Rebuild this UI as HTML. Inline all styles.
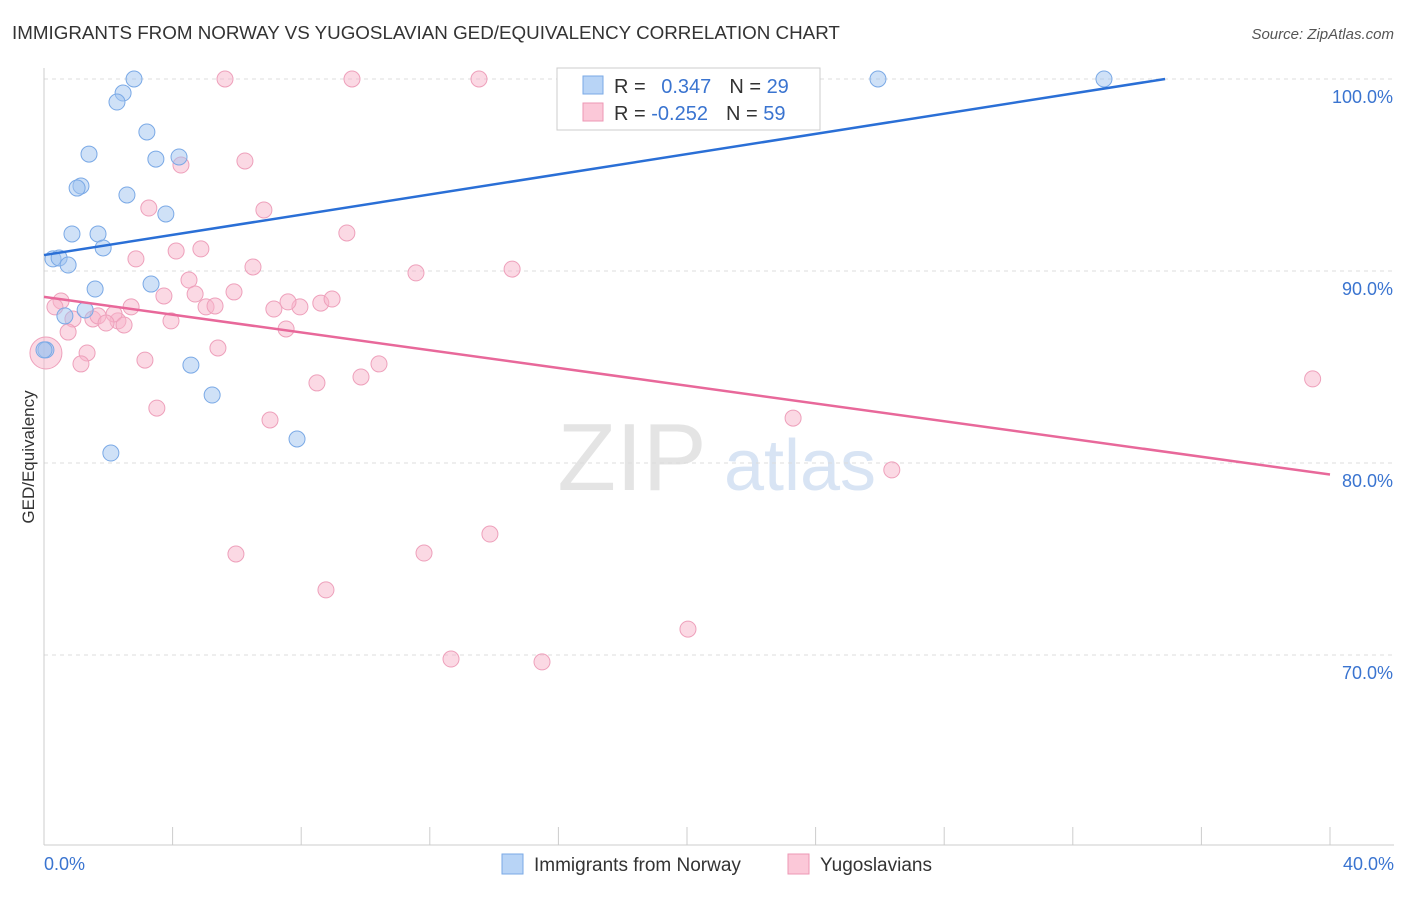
<!DOCTYPE html>
<html><head><meta charset="utf-8"><style>
body{margin:0;background:#fff;font-family:"Liberation Sans",sans-serif;}
svg text{font-family:"Liberation Sans",sans-serif;}
</style></head><body>
<svg id="chart" width="1406" height="892">
<text x="12" y="39" font-size="18.8" fill="#333">IMMIGRANTS FROM NORWAY VS YUGOSLAVIAN GED/EQUIVALENCY CORRELATION CHART</text>
<text x="1394" y="39" font-size="15" fill="#555" text-anchor="end" font-style="italic">Source: ZipAtlas.com</text>
<text x="632" y="490" font-size="96" fill="#e4e4e4" font-family="Liberation Serif" text-anchor="middle">ZIP</text>
<text x="800" y="490" font-size="72" fill="#d8e4f4" text-anchor="middle">atlas</text>
<g id="grid"></g><g id="axes"></g><g id="marks"></g>
<text transform="translate(34,457) rotate(-90)" font-size="17" fill="#333" text-anchor="middle">GED/Equivalency</text>
<g>
<rect x="557" y="68" width="263" height="62" fill="#fff" stroke="#ccc"/>
<rect x="583" y="76" width="20" height="18" fill="#b8d4f6" stroke="#7aa9e6"/>
<rect x="583" y="103" width="20" height="18" fill="#fbc8d8" stroke="#ee97b4"/>
<text x="614" y="93" font-size="20" fill="#333">R = <tspan fill="#3a74d0" dx="10">0.347</tspan><tspan fill="#333" dx="18">N = </tspan><tspan fill="#3a74d0">29</tspan></text>
<text x="614" y="120" font-size="20" fill="#333">R = <tspan fill="#3a74d0">-0.252</tspan><tspan fill="#333" dx="18">N = </tspan><tspan fill="#3a74d0">59</tspan></text>
</g>
<g>
<rect x="502" y="854" width="21" height="20" fill="#b8d4f6" stroke="#7aa9e6"/>
<text x="534" y="871" font-size="19" fill="#333">Immigrants from Norway</text>
<rect x="788" y="854" width="21" height="20" fill="#fbc8d8" stroke="#ee97b4"/>
<text x="820" y="871" font-size="19" fill="#333">Yugoslavians</text>
</g>
</svg>
<script>
const blueX=[2.80,2.46,2.27,3.20,1.40,3.48,4.20,1.15,1.03,2.58,3.79,0.87,1.68,1.84,0.28,0.47,0.75,3.33,1.59,1.28,0.65,0.06,0.0,4.57,5.23,7.87,2.08,25.94,32.97];
const blueY=[100,99.27,98.8,97.24,96.09,95.83,95.94,94.43,94.32,93.96,92.97,91.93,91.93,91.2,90.63,90.68,90.31,89.32,89.06,87.97,87.66,85.89,85.89,85.1,83.54,81.25,80.52,100,100];
const pinkX=[5.63,9.58,13.53,4.26,6.25,3.26,6.84,9.42,4.88,4.11,2.86,6.5,11.57,14.56,4.51,3.73,4.7,5.91,0.53,0.34,2.71,5.04,5.32,7.15,7.96,7.59,8.61,8.96,0.9,1.52,1.68,2.3,2.18,2.49,1.93,3.95,7.53,0.75,5.41,1.34,3.14,1.15,10.42,9.86,8.49,3.51,7.03,23.3,39.46,26.37,13.87,5.97,11.82,8.77,20.03,12.66,15.49,0.06];
const pinkY=[100,100,100,95.52,95.73,93.28,93.18,91.98,91.15,91.04,90.63,90.21,89.9,90.1,89.53,88.7,88.8,88.91,88.44,88.13,88.13,88.13,88.18,88.02,88.13,88.39,88.33,88.54,87.5,87.5,87.66,87.4,87.76,87.19,87.29,87.4,86.98,86.82,85.99,85.73,85.36,85.16,85.16,84.48,84.17,82.86,82.24,82.34,84.38,79.64,76.3,75.26,75.31,73.39,71.35,69.79,69.64,85.73];
const blueTrend=[[0,90.83],[34.87,100]];
const pinkTrend=[[0,88.65],[40,79.4]];
const yTicks=[100,90,80,70];
const yTickLabels=["100.0%","90.0%","80.0%","70.0%"];
const xTickLabels=["0.0%","40.0%"];
const NS="http://www.w3.org/2000/svg";
const xs=v=>44+v/40*1286, ys=v=>79+(100-v)*19.2;
function mk(t,a,p){const e=document.createElementNS(NS,t);for(const k in a)e.setAttribute(k,a[k]);p.appendChild(e);return e;}
const grid=document.getElementById('grid'),axes=document.getElementById('axes'),marks=document.getElementById('marks');
yTicks.forEach((v,i)=>{
 const l=mk('line',{x1:44,x2:1394,y1:ys(v),y2:ys(v),stroke:'#ddd','stroke-dasharray':'4,4'},grid);
 
 
 const t=mk('text',{x:1393,y:ys(v)+24,'font-size':18,fill:'#3a74d0','text-anchor':'end'},axes);
 t.textContent=yTickLabels[i];
 
 
});
const ax=mk('line',{x1:44,x2:44,y1:68,y2:845,stroke:'#ccc'},axes);


const bx=mk('line',{x1:44,x2:1394,y1:845,y2:845,stroke:'#ccc'},axes);


for(let i=0;i<=10;i++){const x=44+i*128.6;const tk=mk('line',{x1:x,x2:x,y1:827,y2:845,stroke:'#ccc'},axes);
 
 }
[[0,'start'],[40,'end']].forEach((d,i)=>{const t=mk('text',{x:i?1394:44,y:870,'font-size':18,fill:'#3a74d0','text-anchor':d[1]},axes);t.textContent=xTickLabels[i];
 
 });
pinkX.forEach((x,i)=>{const c=mk('circle',{cx:xs(x),cy:ys(pinkY[i]),r:i==pinkX.length-1?16:8,fill:'rgba(248,180,202,0.5)',stroke:'#eea0bb','stroke-width':1},marks);
 
 });
blueX.forEach((x,i)=>{const c=mk('circle',{cx:xs(x),cy:ys(blueY[i]),r:8,fill:'rgba(160,196,240,0.5)',stroke:'#7aa9e6','stroke-width':1},marks);
 
 });
const bl=mk('line',{x1:xs(blueTrend[0][0]),y1:ys(blueTrend[0][1]),x2:xs(blueTrend[1][0]),y2:ys(blueTrend[1][1]),stroke:'#2a6fd6','stroke-width':2.5},marks);


const pl=mk('line',{x1:xs(pinkTrend[0][0]),y1:ys(pinkTrend[0][1]),x2:xs(pinkTrend[1][0]),y2:ys(pinkTrend[1][1]),stroke:'#e8689a','stroke-width':2.5},marks);


</script>
</body></html>
